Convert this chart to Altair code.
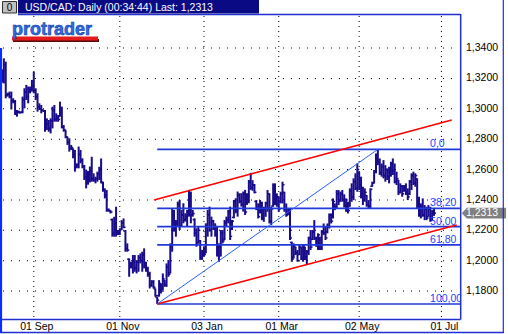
import altair as alt
import pandas as pd

# ---------------- data ----------------
high = [
1.3260,1.3332,1.3310,1.3106,1.3113,1.3113,1.3069,1.3058,1.2992,1.2988,
1.2981,1.3080,1.3135,1.3157,1.3146,1.3146,1.3190,1.3244,1.3135,1.3102,
1.3036,1.3025,1.2996,1.2992,1.2937,1.2926,1.2937,1.3014,1.3025,1.2970,
1.2959,1.3047,1.3014,1.2893,1.2860,1.2816,1.2806,1.2762,1.2740,1.2729,
1.2641,1.2751,1.2729,1.2674,1.2630,1.2600,1.2590,1.2620,1.2684,1.2575,
1.2553,1.2586,1.2618,1.2673,1.2520,1.2476,1.2465,1.2344,1.2333,1.2278,
1.2289,1.2355,1.2202,1.2213,1.2267,1.2278,1.2202,1.2114,1.2015,1.1993,
1.2037,1.2037,1.2004,1.2037,1.2048,1.2059,1.2081,1.1993,1.1960,1.1927,
1.1872,1.1872,1.1817,1.1763,1.1872,1.1850,1.1916,1.1872,1.1982,1.2004,
1.2114,1.2344,1.2334,1.2268,1.2389,1.2400,1.2334,1.2378,1.2312,1.2334,
1.2466,1.2455,1.2334,1.2279,1.2213,1.2224,1.2136,1.2071,1.2092,1.2246,
1.2334,1.2356,1.2290,1.2268,1.2246,1.2224,1.2114,1.2202,1.2202,1.2268,
1.2290,1.2334,1.2356,1.2268,1.2400,1.2411,1.2455,1.2444,1.2444,1.2455,
1.2466,1.2444,1.2531,1.2578,1.2530,1.2505,1.2399,1.2377,1.2399,1.2388,
1.2355,1.2388,1.2465,1.2443,1.2355,1.2509,1.2509,1.2443,1.2421,1.2454,
1.2520,1.2454,1.2377,1.2344,1.2344,1.2125,1.2114,1.2092,1.2070,1.2103,
1.2092,1.2103,1.2092,1.2070,1.2158,1.2202,1.2202,1.2267,1.2158,1.2180,
1.2158,1.2202,1.2245,1.2223,1.2245,1.2311,1.2311,1.2410,1.2377,1.2465,
1.2465,1.2455,1.2465,1.2437,1.2410,1.2388,1.2476,1.2509,1.2542,1.2575,
1.2640,1.2586,1.2553,1.2487,1.2476,1.2432,1.2399,1.2476,1.2520,1.2597,
1.2706,1.2733,1.2673,1.2640,1.2662,1.2629,1.2607,1.2618,1.2651,1.2673,
1.2640,1.2586,1.2531,1.2509,1.2498,1.2498,1.2509,1.2476,1.2531,1.2575,
1.2586,1.2575,1.2542,1.2421,1.2377,1.2410,1.2366,1.2355,1.2366,1.2355,
1.2333,1.2344]

low = [
1.3172,1.3167,1.3069,1.3080,1.3069,1.2996,1.3036,1.2959,1.2948,1.2970,
1.2970,1.2970,1.3003,1.3058,1.3036,1.3102,1.3113,1.3102,1.3058,1.2981,
1.2992,1.2970,1.2981,1.2849,1.2860,1.2849,1.2838,1.2871,1.2915,1.2915,
1.2915,1.2948,1.2871,1.2849,1.2806,1.2762,1.2718,1.2729,1.2674,1.2586,
1.2608,1.2608,1.2641,1.2608,1.2531,1.2476,1.2500,1.2515,1.2520,1.2520,
1.2509,1.2520,1.2531,1.2509,1.2454,1.2410,1.2322,1.2322,1.2311,1.2158,
1.2158,1.2158,1.2169,1.2169,1.2202,1.2213,1.2059,1.2059,1.1894,1.1949,
1.1916,1.1927,1.1916,1.1927,1.1982,1.1927,1.1949,1.1927,1.1894,1.1817,
1.1828,1.1817,1.1763,1.1715,1.1763,1.1784,1.1807,1.1828,1.1828,1.1894,
1.1916,1.2059,1.2191,1.2158,1.2224,1.2202,1.2224,1.2246,1.2257,1.2224,
1.2290,1.2246,1.2290,1.2158,1.2092,1.2114,1.2005,1.2005,1.2027,1.2049,
1.2158,1.2191,1.2158,1.2202,1.2158,1.2027,1.1994,1.2027,1.2114,1.2136,
1.2224,1.2246,1.2136,1.2202,1.2279,1.2312,1.2290,1.2378,1.2356,1.2323,
1.2301,1.2367,1.2378,1.2466,1.2460,1.2443,1.2333,1.2278,1.2311,1.2267,
1.2256,1.2289,1.2322,1.2245,1.2234,1.2355,1.2366,1.2355,1.2322,1.2377,
1.2377,1.2322,1.2289,1.2300,1.2136,1.1993,1.2015,1.2037,1.1993,1.2037,
1.2004,1.1993,1.2004,1.1978,1.2037,1.2070,1.2136,1.2136,1.2092,1.2070,
1.2070,1.2070,1.2169,1.2136,1.2180,1.2212,1.2245,1.2278,1.2333,1.2340,
1.2366,1.2388,1.2388,1.2350,1.2322,1.2311,1.2355,1.2388,1.2399,1.2465,
1.2454,1.2465,1.2410,1.2366,1.2388,1.2355,1.2344,1.2344,1.2487,1.2509,
1.2575,1.2629,1.2564,1.2553,1.2542,1.2520,1.2531,1.2509,1.2553,1.2564,
1.2509,1.2498,1.2432,1.2443,1.2421,1.2454,1.2432,1.2399,1.2432,1.2465,
1.2498,1.2487,1.2344,1.2289,1.2278,1.2289,1.2267,1.2267,1.2289,1.2256,
1.2267,1.2295]

open_ = [
1.3200,1.3240,1.3290,1.3090,1.3095,1.3080,1.3050,1.3045,1.2975,1.2980,
1.2975,1.2978,1.3060,1.3110,1.3080,1.3120,1.3130,1.3150,1.3120,1.3080,
1.3010,1.3000,1.2990,1.2985,1.2870,1.2900,1.2870,1.2920,1.2990,1.2930,
1.2940,1.2950,1.3000,1.2880,1.2860,1.2815,1.2780,1.2740,1.2735,1.2690,
1.2620,1.2630,1.2700,1.2660,1.2620,1.2550,1.2520,1.2560,1.2590,1.2540,
1.2530,1.2540,1.2570,1.2600,1.2515,1.2465,1.2430,1.2335,1.2330,1.2270,
1.2180,1.2250,1.2190,1.2185,1.2205,1.2250,1.2195,1.2080,1.2010,1.1960,
1.1980,1.2000,1.1950,1.1990,1.2020,1.2000,1.2040,1.1960,1.1940,1.1910,
1.1840,1.1860,1.1815,1.1760,1.1770,1.1845,1.1810,1.1870,1.1840,1.1960,
1.1920,1.2100,1.2300,1.2210,1.2250,1.2370,1.2230,1.2300,1.2270,1.2290,
1.2320,1.2430,1.2300,1.2270,1.2180,1.2120,1.2130,1.2020,1.2060,1.2050,
1.2230,1.2300,1.2200,1.2260,1.2210,1.2170,1.2040,1.2090,1.2180,1.2140,
1.2250,1.2270,1.2320,1.2210,1.2285,1.2390,1.2330,1.2430,1.2390,1.2370,
1.2440,1.2375,1.2430,1.2520,1.2480,1.2500,1.2390,1.2340,1.2320,1.2380,
1.2280,1.2340,1.2380,1.2440,1.2260,1.2360,1.2490,1.2380,1.2420,1.2390,
1.2440,1.2450,1.2340,1.2310,1.2330,1.2120,1.2020,1.2090,1.2050,1.2040,
1.2090,1.2010,1.2090,1.2020,1.2060,1.2150,1.2140,1.2190,1.2150,1.2100,
1.2150,1.2080,1.2190,1.2180,1.2190,1.2230,1.2300,1.2285,1.2370,1.2350,
1.2440,1.2400,1.2440,1.2400,1.2360,1.2380,1.2360,1.2460,1.2420,1.2520,
1.2480,1.2580,1.2500,1.2430,1.2400,1.2430,1.2370,1.2360,1.2490,1.2510,
1.2590,1.2690,1.2650,1.2580,1.2620,1.2560,1.2600,1.2550,1.2600,1.2640,
1.2590,1.2520,1.2530,1.2450,1.2490,1.2460,1.2480,1.2450,1.2440,1.2520,
1.2560,1.2510,1.2540,1.2360,1.2300,1.2350,1.2300,1.2340,1.2290,1.2340,
1.2270,1.2320]

close = [
1.3240,1.3290,1.3090,1.3095,1.3080,1.3050,1.3045,1.2975,1.2980,1.2975,
1.2978,1.3060,1.3110,1.3080,1.3120,1.3130,1.3150,1.3120,1.3080,1.3010,
1.3000,1.2990,1.2985,1.2870,1.2900,1.2870,1.2920,1.2990,1.2930,1.2940,
1.2930,1.3000,1.2880,1.2860,1.2815,1.2780,1.2740,1.2745,1.2690,1.2620,
1.2630,1.2700,1.2660,1.2620,1.2550,1.2520,1.2560,1.2590,1.2540,1.2530,
1.2540,1.2570,1.2600,1.2515,1.2465,1.2430,1.2335,1.2330,1.2320,1.2180,
1.2250,1.2190,1.2185,1.2205,1.2250,1.2220,1.2080,1.2070,1.1960,1.1980,
1.2000,1.1950,1.1990,1.2020,1.2000,1.2040,1.1960,1.1940,1.1910,1.1840,
1.1860,1.1825,1.1770,1.1740,1.1850,1.1800,1.1880,1.1840,1.1960,1.1910,
1.2100,1.2300,1.2210,1.2250,1.2370,1.2230,1.2300,1.2270,1.2290,1.2320,
1.2430,1.2300,1.2310,1.2180,1.2110,1.2200,1.2020,1.2060,1.2040,1.2230,
1.2300,1.2200,1.2260,1.2210,1.2170,1.2040,1.2090,1.2180,1.2130,1.2250,
1.2270,1.2320,1.2160,1.2260,1.2390,1.2330,1.2430,1.2390,1.2370,1.2440,
1.2320,1.2430,1.2520,1.2480,1.2500,1.2450,1.2340,1.2290,1.2380,1.2280,
1.2340,1.2380,1.2440,1.2260,1.2340,1.2490,1.2380,1.2420,1.2340,1.2440,
1.2500,1.2340,1.2300,1.2330,1.2150,1.2010,1.2100,1.2050,1.2000,1.2090,
1.2010,1.2100,1.2020,1.2060,1.2150,1.2090,1.2190,1.2150,1.2100,1.2170,
1.2080,1.2190,1.2180,1.2150,1.2230,1.2300,1.2260,1.2390,1.2350,1.2440,
1.2390,1.2440,1.2400,1.2360,1.2380,1.2330,1.2460,1.2420,1.2520,1.2480,
1.2600,1.2500,1.2430,1.2400,1.2450,1.2370,1.2360,1.2470,1.2510,1.2590,
1.2690,1.2650,1.2580,1.2620,1.2560,1.2600,1.2550,1.2600,1.2640,1.2590,
1.2520,1.2540,1.2450,1.2490,1.2440,1.2480,1.2450,1.2420,1.2520,1.2560,
1.2510,1.2560,1.2360,1.2300,1.2350,1.2300,1.2340,1.2280,1.2340,1.2270,
1.2320,1.2313]

assert len(high) == len(low) == len(open_) == len(close), (len(high), len(low), len(open_), len(close))

# x axis: trading-day index of the labelled dates
tick_index = [17, 63, 108, 148, 191, 235]
tick_labels = ["01 Sep", "01 Nov", "03 Jan", "01 Mar", "02 May", "01 Jul"]
price_ticks = [1.18, 1.20, 1.22, 1.24, 1.26, 1.28, 1.30, 1.32, 1.34]
price_labels = ["1,1800", "1,2000", "1,2200", "1,2400", "1,2600", "1,2800",
                "1,3000", "1,3200", "1,3400"]

# Fibonacci retracement between swing low and swing high
swing_low_idx, swing_low = 83, 1.1715
swing_high_idx, swing_high = 201, 1.2733
fib_levels = [0.0, 38.2, 50.0, 61.8, 100.0]
fib_labels = ["0,0", "38,20", "50,00", "61,80", "100,00"]

# trend channel (red) end points
lower_idx = [83, 243.2]
lower_px = [1.1715, 1.2235]
upper_idx = [81.3, 240.5]
upper_px = [1.2399, 1.2926]

title_text = "USD/CAD: Daily (00:34:44) Last: 1,2313"
last_label = "1,2313"

# ---------------- build ----------------
X_DOM = [-0.535, 244.92]
Y_DOM = [1.1616, 1.3624]
PLOT_W, PLOT_H = 459, 305
FONT = "Liberation Sans"
BAR = "#180c8a"
FIB = "#1f3ad8"
FRAME = "#1f2fd0"

bars = pd.DataFrame({"i": list(range(len(high))), "h": high, "l": low, "o": open_, "c": close})

xs = alt.Scale(domain=X_DOM, nice=False, zero=False)
ys = alt.Scale(domain=Y_DOM, nice=False, zero=False)

ytick_df = pd.DataFrame({"p": price_ticks, "t": price_labels})
xtick_df = pd.DataFrame({"i": tick_index, "t": tick_labels})

# dotted grid: one symbol per grid line whose path is a row of 1px dots (pure styling)
h_dots = "".join(f"M{x},-0.5h1v1h-1z" for x in range(2, PLOT_W - 2, 8))
v_dots = "".join(f"M-0.5,{y}h1v1h-1z" for y in range(2, PLOT_H, 5))
hgrid = alt.Chart(ytick_df).mark_point(
    shape=h_dots, size=4, filled=True, color="#000000", opacity=1, strokeWidth=0).encode(
    x=alt.value(0), y=alt.Y("p:Q", scale=ys, axis=None))
vgrid = alt.Chart(xtick_df).mark_point(
    shape=v_dots, size=4, filled=True, color="#000000", opacity=1, strokeWidth=0).encode(
    x=alt.X("i:Q", scale=xs, axis=None), y=alt.value(0))

ylabels = alt.Chart(ytick_df).mark_text(
    font=FONT, fontSize=10.5, color="#000000", align="left", baseline="middle").encode(
    x=alt.value(465), y="p:Q", text="t:N")
xlabels = alt.Chart(xtick_df).mark_text(
    font=FONT, fontSize=10.5, color="#000000", align="center", baseline="top", dx=3).encode(
    x="i:Q", y=alt.value(308), text="t:N")

base = alt.Chart(bars)
hl = base.mark_rule(color=BAR, strokeWidth=2).encode(
    x=alt.X("i:Q", scale=xs, axis=None),
    y=alt.Y("l:Q", scale=ys, axis=None),
    y2="h:Q")
op = base.mark_rule(color=BAR, strokeWidth=1.5, xOffset=-2, x2Offset=0).encode(
    x="i:Q", x2="i:Q", y="o:Q")
cl = base.mark_rule(color=BAR, strokeWidth=1.5, xOffset=0, x2Offset=2).encode(
    x="i:Q", x2="i:Q", y="c:Q")

fib_df = pd.DataFrame({
    "lvl": fib_levels,
    "label": fib_labels,
    "p": [swing_high - (swing_high - swing_low) * v / 100 for v in fib_levels],
    "x0": [swing_low_idx] * len(fib_levels),
    "x1": [X_DOM[1]] * len(fib_levels),
    "xl": [228.9] * len(fib_levels),
})
fib_lines = alt.Chart(fib_df).mark_rule(color=FIB, strokeWidth=1.6).encode(
    x="x0:Q", x2="x1:Q", y="p:Q")
fib_text = alt.Chart(fib_df).mark_text(color="#2244ff", font=FONT, fontSize=10.5,
                                       align="left", baseline="alphabetic", dy=-2,
                                       clip=True).encode(
    x="xl:Q", y="p:Q", text="label:N")

chan_df = pd.DataFrame({
    "i": lower_idx + upper_idx,
    "p": lower_px + upper_px,
    "g": ["lower", "lower", "upper", "upper"],
})
channel = alt.Chart(chan_df).mark_line(color="#ff0000", strokeWidth=1.6).encode(
    x="i:Q", y="p:Q", detail="g:N")

trend_df = pd.DataFrame({"i": [swing_low_idx, swing_high_idx], "p": [swing_low, swing_high]})
trend = alt.Chart(trend_df).mark_line(color="#2a5cff", strokeWidth=1).encode(x="i:Q", y="p:Q")

last_df = pd.DataFrame({"p": [close[-1]], "t": [last_label]})
tag = alt.Chart(last_df).mark_point(
    shape="M-1,0L-0.77,-0.24L1,-0.24L1,0.24L-0.77,0.24Z", size=1962,
    filled=True, color="#808080", opacity=1, strokeWidth=0).encode(
    x=alt.value(482.9), y="p:Q")
tag_text = alt.Chart(last_df).mark_text(color="#ffffff", font=FONT, fontSize=10.5,
                                        align="left", baseline="middle").encode(
    x=alt.value(465), y="p:Q", text="t:N")

one = pd.DataFrame({"t": [title_text]})


def hrule(x1, x2, y, color=FRAME, w=1.5):
    return alt.Chart(one).mark_rule(color=color, strokeWidth=w).encode(
        x=alt.value(x1), x2=alt.value(x2), y=alt.value(y))


def vrule(x, y1, y2, color=FRAME, w=1.5):
    return alt.Chart(one).mark_rule(color=color, strokeWidth=w).encode(
        x=alt.value(x), y=alt.value(y1), y2=alt.value(y2))


frames = [
    hrule(17, 459.5, 0.5),
    vrule(459.7, 0, 305.5),
    hrule(-1, 459.5, 305.5),
    hrule(-1, 503, 318.5),
    vrule(502.3, -14, 319, w=1.2),
    vrule(0.0, 34, 319, color="#0a2cff", w=2.2),
]

title_bar = alt.Chart(one).mark_rect(color="#0a0a84").encode(
    x=alt.value(17), x2=alt.value(258), y=alt.value(-14), y2=alt.value(-0.5))
title = alt.Chart(one).mark_text(color="#ffffff", font=FONT, fontSize=10.5, align="left",
                                 baseline="alphabetic").encode(
    x=alt.value(24), y=alt.value(-3), text="t:N")
button = alt.Chart(one).mark_rect(color="#c0c0c0", stroke="#303030", strokeWidth=1).encode(
    x=alt.value(1.5), x2=alt.value(15.5), y=alt.value(-12.5), y2=alt.value(-1))
btn_df = pd.DataFrame({"t": ["0"]})
button_text = alt.Chart(btn_df).mark_text(color="#000000", font=FONT, fontSize=10,
                                          align="center", baseline="middle").encode(
    x=alt.value(8.5), y=alt.value(-6.5), text="t:N")

logo_bg = alt.Chart(one).mark_rect(color="#ffffff").encode(
    x=alt.value(9), x2=alt.value(100), y=alt.value(4), y2=alt.value(29))
logo_bar_shadow = alt.Chart(one).mark_rect(color="#5a0a0a").encode(
    x=alt.value(12), x2=alt.value(98), y=alt.value(25), y2=alt.value(28))
logo_bar = alt.Chart(one).mark_rect(color="#e41b1b").encode(
    x=alt.value(11), x2=alt.value(97), y=alt.value(22.5), y2=alt.value(26.5))
logo_df = pd.DataFrame({"t": ["protrader"]})
logo = alt.Chart(logo_df).mark_text(color="#2f6de6", stroke="#173c9c", strokeWidth=0.6,
                                    font=FONT, fontSize=18, fontWeight="bold",
                                    align="left", baseline="alphabetic").encode(
    x=alt.value(11), y=alt.value(21), text="t:N")

chart = alt.layer(
    hgrid, vgrid, hl, ylabels, xlabels, fib_text, op, cl, fib_lines, channel, trend,
    tag, tag_text,
    *frames, title_bar, title, button, button_text,
    logo_bg, logo_bar_shadow, logo_bar, logo,
).properties(
    width=PLOT_W, height=PLOT_H,
    padding={"left": 1, "top": 14, "right": 48, "bottom": 15},
    autosize=alt.AutoSizeParams(type="none"),
    background="#ffffff",
).configure_view(stroke="transparent")

chart.save("out.html", embed_options={"renderer": "svg", "actions": False})
